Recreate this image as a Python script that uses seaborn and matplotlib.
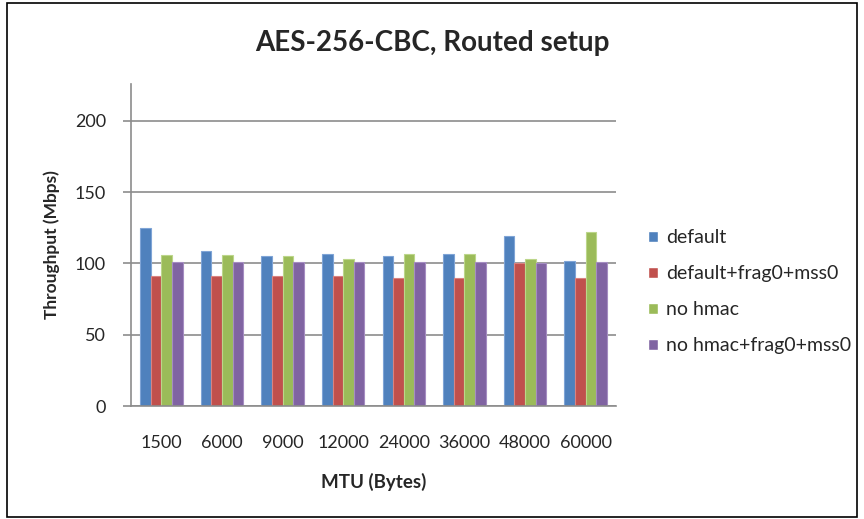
import pandas as pd
import matplotlib.pyplot as plt
import seaborn as sns
from matplotlib.patches import Rectangle

# 数据
mtu_labels = ["1500", "6000", "9000", "12000", "24000", "36000", "48000", "60000"]
series_names = ["default", "default+frag0+mss0", "no hmac", "no hmac+frag0+mss0"]
default = [125, 109, 105, 107, 105, 107, 119, 102]
default_frag0 = [91, 91, 91, 91, 90, 90, 100, 90]
no_hmac = [106, 106, 105, 103, 107, 107, 103, 122]
no_hmac_frag0 = [101, 101, 101, 101, 101, 101, 100, 101]

colors = ["#4F81BD", "#C0504D", "#9BBB59", "#8064A2"]
edge_colors = ["#7FA4D6", "#D98381", "#BCD68A", "#A58DC2"]


def build_frame():
    rows = []
    for name, values in zip(series_names, [default, default_frag0, no_hmac, no_hmac_frag0]):
        for mtu, v in zip(mtu_labels, values):
            rows.append({"MTU": mtu, "series": name, "value": v})
    return pd.DataFrame(rows)


def main():
    data = build_frame()

    sns.set_theme(style="white")
    plt.rcParams["font.family"] = ["Lato", "DejaVu Sans"]

    fig = plt.figure(figsize=(8.64, 5.19), dpi=100)
    ax = fig.add_axes([0.1516, 0.2177, 0.5614, 0.6206])

    sns.barplot(data=data, x="MTU", y="value", hue="series", order=mtu_labels,
                hue_order=series_names, palette=colors, width=0.7, ax=ax,
                legend=False, saturation=1)

    # 柱子的浅色描边
    for container, ec in zip(ax.containers, edge_colors):
        for bar in container:
            bar.set_edgecolor(ec)
            bar.set_linewidth(0.8)

    ax.set_ylim(0, 226)
    ax.set_yticks([0, 50, 100, 150, 200])
    ax.yaxis.grid(True, color="#8C8C8C", linewidth=1.2)
    ax.set_axisbelow(True)
    for side in ["top", "right"]:
        ax.spines[side].set_visible(False)
    for side in ["left", "bottom"]:
        ax.spines[side].set_color("#8C8C8C")
        ax.spines[side].set_linewidth(1.2)
    ax.tick_params(axis="y", length=6, width=1.2, color="#8C8C8C", left=True,
                   labelsize=13, pad=12)
    ax.tick_params(axis="x", length=0, labelsize=13, pad=21)

    ax.set_xlabel("MTU (Bytes)", fontsize=13.5, fontweight="bold")
    ax.set_ylabel("Throughput (Mbps)", fontsize=12.5, fontweight="bold")
    ax.xaxis.set_label_coords(0.5, -0.237)
    ax.yaxis.set_label_coords(-0.163, 0.5)
    ax.yaxis.label.set_va("center")
    ax.xaxis.label.set_va("center")

    fig.text(0.5, 0.918, "AES-256-CBC, Routed setup", fontsize=20, fontweight="bold",
             ha="center", va="center")

    handles = [Rectangle((0, 0), 1, 1, facecolor=c) for c in colors]
    fig.legend(handles, series_names, loc="center left", bbox_to_anchor=(0.75, 0.438),
               frameon=False, fontsize=14, handlelength=0.5, handleheight=0.5,
               handletextpad=0.45, labelspacing=0.98, borderpad=0, borderaxespad=0)

    # 外框
    fig.patches.append(Rectangle((0.008, 0.004), 0.984, 0.99, transform=fig.transFigure,
                                 fill=False, edgecolor="black", linewidth=1.2))

    fig.savefig("out.png", dpi=100)
    plt.close(fig)


if __name__ == "__main__":
    main()
